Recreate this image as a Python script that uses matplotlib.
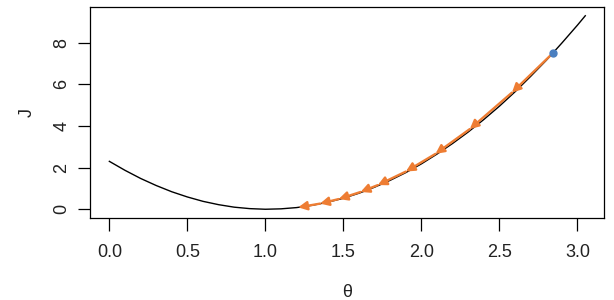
import matplotlib
matplotlib.use("Agg")
import matplotlib.pyplot as plt

# cost curve
theta = [0.0, 0.1, 0.2, 0.3, 0.4, 0.5, 0.6, 0.7, 0.8, 0.9, 1.0,
         1.1, 1.2, 1.3, 1.4, 1.5, 1.6, 1.7, 1.8, 1.9, 2.0,
         2.1, 2.2, 2.3, 2.4, 2.5, 2.6, 2.7, 2.8, 2.9, 3.0, 3.05]
J = [2.30, 1.87, 1.48, 1.14, 0.84, 0.59, 0.38, 0.22, 0.10, 0.03, 0.00,
     0.02, 0.08, 0.19, 0.34, 0.53, 0.77, 1.06, 1.39, 1.76, 2.18,
     2.65, 3.16, 3.71, 4.31, 4.95, 5.64, 6.38, 7.15, 7.98, 8.84, 9.29]

# gradient descent steps
theta_steps = [2.84, 2.58, 2.31, 2.09, 1.90, 1.72, 1.61, 1.47, 1.35, 1.21]
J_steps = [7.48, 5.60, 3.85, 2.66, 1.81, 1.16, 0.83, 0.49, 0.27, 0.09]

xticks = [0.0, 0.5, 1.0, 1.5, 2.0, 2.5, 3.0]
yticks = [0, 2, 4, 6, 8]

orange = "#EE7D33"
blue = "#4A7FC0"
txt = "#222222"

plt.rcParams["font.family"] = ["Liberation Sans", "DejaVu Sans"]

fig = plt.figure(figsize=(6.14, 3.0), dpi=100)
ax = fig.add_axes([90/614, 1-218/300, 514/614, 211/300])

ax.plot(theta, J, "-", c="black", lw=1.0, zorder=2)

for i in range(len(theta_steps)-1):
	ax.annotate("", xy=(theta_steps[i+1], J_steps[i+1]),
		xytext=(theta_steps[i], J_steps[i]),
		arrowprops=dict(arrowstyle="-|>", color=orange, lw=1.7,
			mutation_scale=13, shrinkA=0, shrinkB=0), zorder=3)

ax.plot(theta_steps[0], J_steps[0], "o", c=blue, ms=5, zorder=4)

ax.set_xlim(-0.124, 3.17)
ax.set_ylim(-0.42, 9.71)
ax.set_xticks(xticks)
ax.set_xticklabels(["%.1f" % v for v in xticks])
ax.set_yticks(yticks)
ax.set_yticklabels([str(v) for v in yticks], rotation=90, va="center")

ax.tick_params(axis="both", direction="out", length=9, width=0.9,
	colors="black", labelcolor=txt, labelsize=13)
ax.tick_params(axis="x", pad=10)
ax.tick_params(axis="y", pad=5)
for s in ax.spines.values():
	s.set_linewidth(0.9)

ax.set_xlabel("θ", fontsize=13, color=txt, labelpad=16)
ax.set_ylabel("J", fontsize=13, color=txt, labelpad=13)

fig.savefig("out.png", dpi=100)
